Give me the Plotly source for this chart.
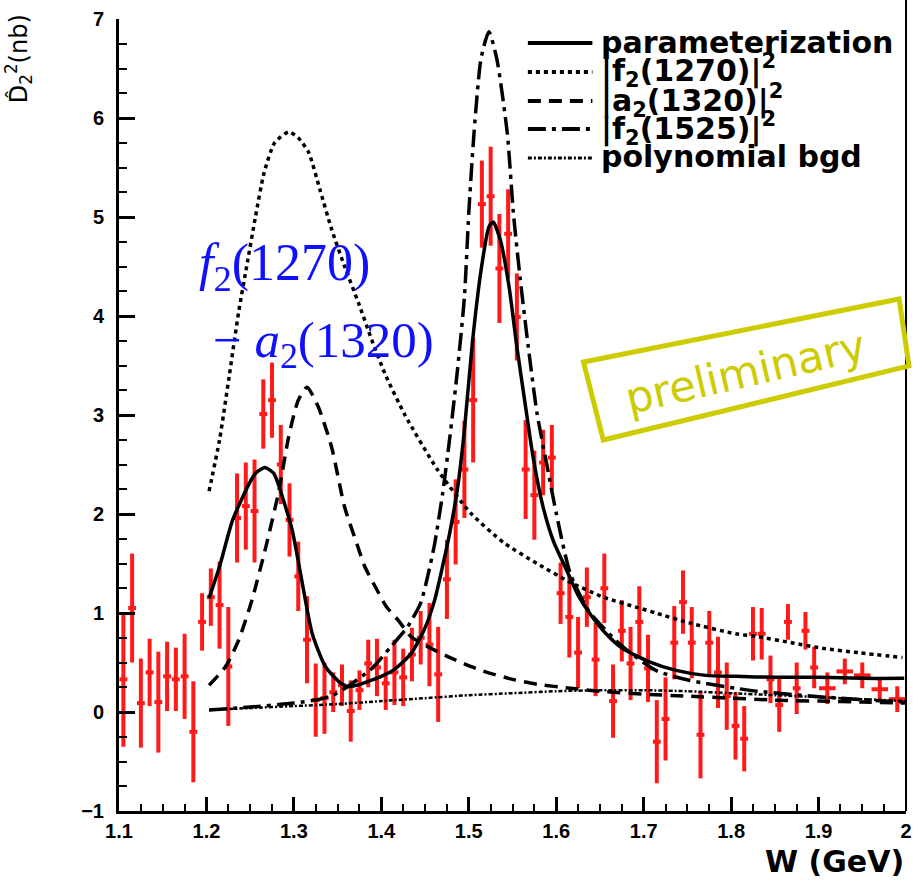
import plotly.graph_objects as go

# ---------------- data points ----------------
W = [1.105, 1.115, 1.125, 1.135, 1.145, 1.155, 1.165, 1.175, 1.185, 1.195,
     1.205, 1.215, 1.225, 1.235, 1.245, 1.255, 1.265, 1.275, 1.285, 1.295,
     1.305, 1.315, 1.325, 1.335, 1.345, 1.355, 1.365, 1.375, 1.385, 1.395,
     1.405, 1.415, 1.425, 1.435, 1.445, 1.455, 1.465, 1.475, 1.485, 1.495,
     1.505, 1.515, 1.525, 1.535, 1.545, 1.555, 1.565, 1.575, 1.585, 1.595,
     1.605, 1.615, 1.625, 1.635, 1.645, 1.655, 1.665, 1.675, 1.685, 1.695,
     1.705, 1.715, 1.725, 1.735, 1.745, 1.755, 1.765, 1.775, 1.785, 1.795,
     1.805, 1.815, 1.825, 1.835, 1.845, 1.855, 1.865, 1.875, 1.885, 1.895,
     1.91, 1.93, 1.95, 1.97, 1.99]
D = [0.33, 1.05, 0.09, 0.40, 0.10, 0.36, 0.33, 0.36, -0.20, 0.91,
     1.16, 1.08, 0.46, 1.96, 2.08, 2.03, 3.01, 3.15, 2.50, 1.94,
     1.37, 0.73, 0.12, 0.14, 0.20, 0.27, 0.01, 0.22, 0.49, 0.45,
     0.29, 0.40, 0.35, 0.58, 0.75, 0.68, 0.38, 1.34, 1.92, 2.45,
     3.15, 5.13, 5.21, 4.48, 4.83, 3.99, 2.45, 2.19, 2.52, 2.57,
     1.20, 0.96, 0.60, 1.16, 0.53, 1.25, 0.11, 0.82, 0.49, 0.91,
     0.44, -0.30, -0.07, 0.70, 1.11, 0.70, -0.23, 0.70, 0.40, 0.16,
     -0.14, -0.27, 0.79, 0.79, 0.33, 0.07, 0.91, 0.24, 0.82, 0.45,
     0.24, 0.41, 0.37, 0.23, 0.13]
ERR = [0.68, 0.55, 0.45, 0.34, 0.51, 0.35, 0.32, 0.43, 0.51, 0.29,
       0.29, 0.44, 0.60, 0.45, 0.44, 0.52, 0.35, 0.38, 0.40, 0.37,
       0.35, 0.44, 0.37, 0.36, 0.20, 0.21, 0.31, 0.20, 0.24, 0.29,
       0.27, 0.33, 0.29, 0.27, 0.27, 0.42, 0.48, 0.40, 0.43, 0.49,
       0.63, 0.44, 0.50, 0.55, 0.45, 0.44, 0.50, 0.45, 0.33, 0.33,
       0.31, 0.41, 0.36, 0.30, 0.37, 0.35, 0.37, 0.31, 0.37, 0.36,
       0.34, 0.42, 0.42, 0.37, 0.32, 0.36, 0.44, 0.32, 0.36, 0.34,
       0.34, 0.33, 0.27, 0.26, 0.24, 0.27, 0.18, 0.26, 0.19, 0.21,
       0.16, 0.13, 0.13, 0.12, 0.13]
XERR = [0.0045] * 80 + [0.0095] * 5

# ---------------- curves ----------------
PAR_X = [1.203, 1.215, 1.23, 1.249, 1.256, 1.267, 1.277, 1.283, 1.298, 1.309,
         1.321, 1.336, 1.351, 1.360, 1.372, 1.385, 1.40, 1.415, 1.434, 1.449,
         1.461, 1.470, 1.478, 1.487, 1.495, 1.504, 1.514, 1.523, 1.528, 1.536,
         1.546, 1.555, 1.565, 1.574, 1.585, 1.597, 1.612, 1.625, 1.638, 1.657,
         1.676, 1.706, 1.737, 1.771, 1.805, 1.85, 1.90, 1.95, 1.998]
PAR_Y = [1.15, 1.47, 1.94, 2.31, 2.41, 2.47, 2.41, 2.28, 1.84, 1.33,
         0.79, 0.46, 0.31, 0.26, 0.27, 0.31, 0.36, 0.43, 0.59, 0.83,
         1.13, 1.47, 1.80, 2.25, 2.85, 3.72, 4.46, 4.90, 4.95, 4.77,
         4.30, 3.69, 3.08, 2.55, 2.07, 1.72, 1.43, 1.18, 1.00, 0.79,
         0.64, 0.51, 0.42, 0.37, 0.36, 0.35, 0.35, 0.34, 0.34]

F1270_X = [1.203, 1.215, 1.226, 1.237, 1.247, 1.256, 1.266, 1.278, 1.294, 1.305,
           1.317, 1.330, 1.343, 1.358, 1.374, 1.389, 1.404, 1.427, 1.464, 1.502,
           1.540, 1.578, 1.616, 1.654, 1.691, 1.714, 1.752, 1.805, 1.831, 1.869,
           1.907, 1.945, 1.996]
F1270_Y = [2.23, 2.75, 3.39, 4.05, 4.55, 5.00, 5.45, 5.75, 5.86, 5.80,
           5.65, 5.27, 4.88, 4.50, 4.13, 3.76, 3.42, 3.00, 2.45, 2.01,
           1.71, 1.50, 1.31, 1.16, 1.06, 1.00, 0.90, 0.79, 0.76, 0.70,
           0.64, 0.60, 0.55]

A1320_X = [1.203, 1.222, 1.237, 1.252, 1.268, 1.283, 1.294, 1.305, 1.315, 1.328,
           1.343, 1.358, 1.372, 1.381, 1.394, 1.406, 1.419, 1.434, 1.453, 1.476,
           1.502, 1.521, 1.55, 1.578, 1.616, 1.65, 1.70, 1.75, 1.80, 1.85,
           1.90, 1.95, 2.0]
A1320_Y = [0.27, 0.46, 0.73, 1.13, 1.67, 2.24, 2.78, 3.15, 3.28, 3.08,
           2.68, 2.07, 1.70, 1.47, 1.25, 1.06, 0.93, 0.76, 0.66, 0.56,
           0.46, 0.40, 0.33, 0.28, 0.24, 0.21, 0.18, 0.16, 0.14, 0.12,
           0.11, 0.10, 0.09]

F1525_X = [1.203, 1.25, 1.30, 1.33, 1.345, 1.362, 1.389, 1.411, 1.430, 1.445,
           1.453, 1.461, 1.470, 1.478, 1.487, 1.495, 1.500, 1.506, 1.514, 1.523,
           1.532, 1.544, 1.551, 1.559, 1.568, 1.578, 1.589, 1.600, 1.616, 1.638,
           1.676, 1.714, 1.752, 1.805, 1.83, 1.907, 1.998]
F1525_Y = [0.02, 0.05, 0.09, 0.13, 0.17, 0.26, 0.44, 0.66, 0.86, 1.10,
           1.37, 1.70, 2.20, 2.75, 3.45, 4.19, 5.04, 5.85, 6.60, 6.87,
           6.60, 5.85, 5.04, 4.36, 3.69, 3.02, 2.51, 2.01, 1.40, 1.01,
           0.66, 0.42, 0.32, 0.24, 0.21, 0.15, 0.10]

BGD_X = [1.203, 1.25, 1.30, 1.35, 1.40, 1.45, 1.50, 1.55, 1.60, 1.65,
         1.70, 1.75, 1.80, 1.85, 1.90, 1.95, 2.0]
BGD_Y = [0.02, 0.04, 0.06, 0.08, 0.11, 0.14, 0.17, 0.19, 0.21, 0.22,
         0.22, 0.21, 0.19, 0.17, 0.15, 0.13, 0.11]

X_TICKS = [1.1, 1.2, 1.3, 1.4, 1.5, 1.6, 1.7, 1.8, 1.9, 2.0]
X_TICKTEXT = ["1.1", "1.2", "1.3", "1.4", "1.5", "1.6", "1.7", "1.8", "1.9", "2"]
Y_TICKS = [-1, 0, 1, 2, 3, 4, 5, 6, 7]

LEGEND_NAMES = ["parameterization",
                "|f<sub>2</sub>(1270)|<sup>2</sup>",
                "|a<sub>2</sub>(1320)|<sup>2</sup>",
                "|f<sub>2</sub>(1525)|<sup>2</sup>",
                "polynomial bgd"]

# ---------------- styling ----------------
RED = "#ff1a1a"
BLUE = "#1010ff"
YEL = "#cccc00"
DASH_SOLID = "solid"
DASH_DOT = "4px,4px"
DASH_DASH = "13px,8px"
DASH_DASHDOT = "18px,6px,4px,6px"
DASH_BGD = "4px,2px,2px,2px"
STYLES = [(DASH_SOLID, 3.5), (DASH_DOT, 3.5), (DASH_DASH, 3.5),
          (DASH_DASHDOT, 3.5), (DASH_BGD, 2.5)]

W_PX, H_PX = 919, 884
L, R, T, B = 119, 912, 19, 811


def pxx(x):
    return (x - L) / (R - L)


def pxy(y):
    return (B - y) / (B - T)


fig = go.Figure()

fig.add_trace(go.Scatter(
    x=W, y=D, mode="markers",
    marker=dict(size=2, color=RED),
    error_y=dict(type="data", array=ERR, color=RED, thickness=4, width=0),
    error_x=dict(type="data", array=XERR, color=RED, thickness=4, width=0),
    showlegend=False, hoverinfo="skip"))

curves = [(PAR_X, PAR_Y), (F1270_X, F1270_Y), (A1320_X, A1320_Y),
          (F1525_X, F1525_Y), (BGD_X, BGD_Y)]
for (cx, cy), (dash, lw) in zip(curves, STYLES):
    fig.add_trace(go.Scatter(
        x=cx, y=cy, mode="lines",
        line=dict(color="black", width=lw, dash=dash, shape="spline", smoothing=0.6),
        showlegend=False, hoverinfo="skip"))

shapes = []
annotations = []

# manual legend
leg_rows = [43, 72, 101, 129, 158]
for name, (dash, lw), ry in zip(LEGEND_NAMES, STYLES, leg_rows):
    shapes.append(dict(type="line", xref="paper", yref="paper",
                       x0=pxx(531), x1=pxx(596), y0=pxy(ry), y1=pxy(ry),
                       line=dict(color="black", width=lw + 0.5, dash=dash)))
    annotations.append(dict(text=name, xref="paper", yref="paper",
                            x=pxx(603), y=pxy(ry - 1), xanchor="left", yanchor="middle",
                            showarrow=False,
                            font=dict(family="DejaVu Sans", size=30, color="black",
                                      weight="bold")))

# right frame line
shapes.append(dict(type="line", xref="paper", yref="paper",
                   x0=1, x1=1, y0=0, y1=pxy(0),
                   line=dict(color="black", width=2)))

# preliminary box
box = [(587, 362), (905, 299), (915, 366), (607, 440)]
path = "M " + " L ".join(f"{pxx(a):.4f},{pxy(b):.4f}" for a, b in box) + " Z"
shapes.append(dict(type="path", xref="paper", yref="paper", path=path,
                   line=dict(color=YEL, width=5)))
annotations.append(dict(text="preliminary", xref="paper", yref="paper",
                        x=pxx(750), y=pxy(372), xanchor="center", yanchor="middle",
                        showarrow=False, textangle=-13,
                        font=dict(family="DejaVu Sans", size=43, color=YEL)))

# resonance labels
annotations.append(dict(text="<i>f</i><sub>2</sub>(1270)", xref="paper", yref="paper",
                        x=pxx(198), y=pxy(266), xanchor="left", yanchor="middle",
                        showarrow=False,
                        font=dict(family="Liberation Serif", size=52, color=BLUE)))
annotations.append(dict(text="\u2212 <i>a</i><sub>2</sub>(1320)", xref="paper", yref="paper",
                        x=pxx(212), y=pxy(344), xanchor="left", yanchor="middle",
                        showarrow=False,
                        font=dict(family="Liberation Serif", size=51, color=BLUE)))

# axis titles (hat drawn in blue)
annotations.append(dict(text="D<span style='color:#1010ff'>\u0302</span><sub>2</sub><sup>2</sup>(nb)",
                        xref="paper", yref="paper",
                        x=pxx(18), y=pxy(12), xanchor="center", yanchor="top",
                        textangle=-90, showarrow=False,
                        font=dict(family="DejaVu Sans", size=24, color="black")))
annotations.append(dict(text="W (GeV)", xref="paper", yref="paper",
                        x=1.0, y=pxy(861), xanchor="right", yanchor="middle",
                        showarrow=False,
                        font=dict(family="DejaVu Sans", size=30, color="black",
                                  weight="bold")))

tickfont = dict(family="Liberation Sans", size=20, color="black", weight="bold")

fig.update_layout(
    width=W_PX, height=H_PX,
    margin=dict(l=L, r=W_PX - R, t=T, b=H_PX - B),
    paper_bgcolor="white", plot_bgcolor="white",
    showlegend=False,
    shapes=shapes, annotations=annotations,
    xaxis=dict(range=[1.1, 2.0], showgrid=False, zeroline=False,
               showline=True, linewidth=3, linecolor="black",
               ticks="inside", ticklen=14, tickwidth=2.5, tickcolor="black",
               tickvals=X_TICKS, ticktext=X_TICKTEXT, tickfont=tickfont,
               minor=dict(ticks="inside", ticklen=7, tickwidth=2, dtick=0.025,
                          tick0=1.1, tickcolor="black", showgrid=False)),
    yaxis=dict(range=[-1, 7], showgrid=False, zeroline=False,
               showline=True, linewidth=3, linecolor="black",
               ticks="inside", ticklen=16, tickwidth=2.5, tickcolor="black",
               tickvals=Y_TICKS, tickfont=tickfont, ticklabelstandoff=8,
               minor=dict(ticks="inside", ticklen=8, tickwidth=2, dtick=0.25,
                          tick0=0, tickcolor="black", showgrid=False)),
)

fig.write_html("out.html")
